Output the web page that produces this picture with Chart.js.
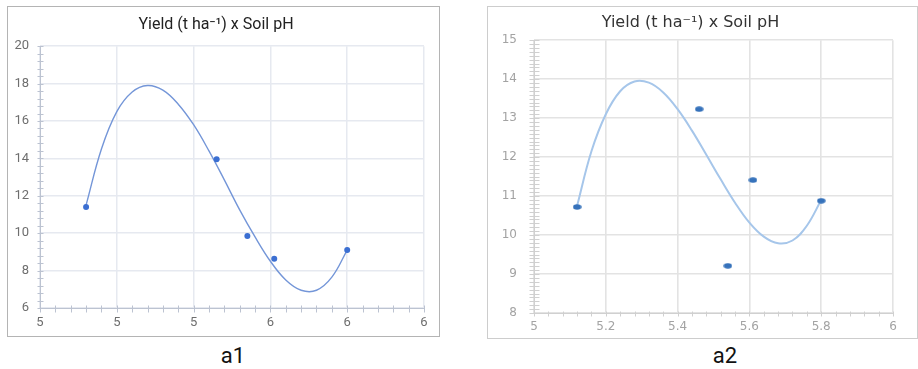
<!DOCTYPE html>
<html>
<head>
<meta charset="utf-8">
<script src="https://cdn.jsdelivr.net/npm/chart.js@4.4.1/dist/chart.umd.min.js"></script>
<style>
  html, body { margin: 0; padding: 0; background: #ffffff; }
  body { position: relative; width: 918px; height: 369px; overflow: hidden; }
  .panel { position: absolute; box-sizing: content-box; background: #fff; }
  .panel canvas { display: block; }
  .caption { position: absolute; top: 341px; width: 80px; text-align: center;
             font-family: Roboto, "Noto Sans", sans-serif; font-size: 22px; line-height: 30px; color: #111; }
</style>
</head>
<body>
<div class="panel" id="panelA1" style="left:7px; top:6px; width:431px; height:329px; border:1px solid #b4b4b4;">
  <canvas id="chartA1"></canvas>
</div>
<div class="panel" id="panelA2" style="left:487px; top:6px; width:429px; height:331px; border:1px solid #cdcdcd;">
  <canvas id="chartA2"></canvas>
</div>
<div class="caption" style="left:193px;">a1</div>
<div class="caption" style="left:685px;">a2</div>

<script>
// Observed soil pH and yield (t/ha) for the two sites
const phPoints = [5.12, 5.46, 5.54, 5.61, 5.80];
const yieldA1  = [11.4, 13.95, 9.85, 8.63, 9.1];
const yieldA2  = [10.72, 13.23, 9.21, 11.41, 10.88];

// Polynomial trend lines, sampled along the pH range
const trendPh = [5.12, 5.16, 5.20, 5.24, 5.28, 5.32, 5.36, 5.40, 5.44,
                 5.48, 5.52, 5.56, 5.60, 5.64, 5.68, 5.72, 5.76, 5.80];
const trendA1 = [11.5, 14.5, 16.5, 17.55, 17.9, 17.65, 16.9, 15.8, 14.4,
                 12.85, 11.25, 9.8, 8.5, 7.5, 6.95, 6.95, 7.65, 9.1];
const trendA2 = [10.75, 12.15, 13.1, 13.69, 13.94, 13.91, 13.66, 13.23, 12.68,
                 12.06, 11.43, 10.83, 10.32, 9.96, 9.79, 9.86, 10.24, 10.9];

const chartTitle = 'Yield (t ha\u207B\u00B9) x Soil pH';

function isMajor(v, step) {
  const r = v / step;
  return Math.abs(r - Math.round(r)) < 1e-6;
}

function pairs(xs, ys) {
  return xs.map((x, i) => ({ x: x, y: ys[i] }));
}

// Axis lines with short cross marks at every (minor) tick
const axisMarks = {
  id: 'axisMarks',
  beforeDatasetsDraw(chart, args, o) {
    const ctx = chart.ctx;
    const a = chart.chartArea;
    const xs = chart.scales.x, ys = chart.scales.y;
    ctx.save();
    ctx.strokeStyle = o.color;
    ctx.lineWidth = o.width;
    ctx.beginPath();
    const by = Math.round(a.bottom) + 0.5;
    const lx = Math.round(a.left) + 0.5;
    ctx.moveTo(a.left, by); ctx.lineTo(a.right, by);
    ctx.moveTo(lx, a.top); ctx.lineTo(lx, a.bottom);
    xs.ticks.forEach(t => {
      const px = Math.round(xs.getPixelForValue(t.value)) + 0.5;
      ctx.moveTo(px, by - o.xUp); ctx.lineTo(px, by + o.xDown);
    });
    ys.ticks.forEach(t => {
      const py = Math.round(ys.getPixelForValue(t.value)) + 0.5;
      ctx.moveTo(lx - o.yOut, py); ctx.lineTo(lx + o.yIn, py);
    });
    ctx.stroke();
    ctx.restore();
  }
};

function ellipseMarker(w, h, color) {
  const c = document.createElement('canvas');
  c.width = w; c.height = h;
  const g = c.getContext('2d');
  g.fillStyle = color;
  g.beginPath();
  g.ellipse(w / 2, h / 2, w / 2 - 0.3, h / 2 - 0.3, 0, 0, Math.PI * 2);
  g.fill();
  return c;
}

function makeChart(id, cfg) {
  const xStep = 0.04, xMajor = 0.2;
  return new Chart(document.getElementById(id), {
    type: 'scatter',
    data: {
      datasets: [
        {
          data: pairs(phPoints, cfg.points),
          pointStyle: cfg.pointStyle,
          pointRadius: cfg.pointRadius,
          pointHoverRadius: cfg.pointRadius,
          backgroundColor: cfg.pointColor,
          borderColor: cfg.pointColor,
          borderWidth: 0,
          showLine: false,
          order: 0
        },
        {
          data: pairs(trendPh, cfg.trend),
          showLine: true,
          pointRadius: 0,
          borderColor: cfg.lineColor,
          borderWidth: cfg.lineWidth,
          tension: 0.4,
          fill: false,
          order: 1
        }
      ]
    },
    options: {
      responsive: true,
      maintainAspectRatio: false,
      animation: false,
      events: [],
      layout: { padding: { left: 0, right: cfg.padRight, top: 0, bottom: 0 } },
      plugins: {
        legend: { display: false },
        tooltip: { enabled: false },
        title: {
          display: true,
          text: chartTitle,
          color: cfg.titleColor,
          font: cfg.titleFont,
          padding: cfg.titlePad
        },
        axisMarks: cfg.marks
      },
      scales: {
        x: {
          type: 'linear',
          min: 5, max: 6,
          afterFit: s => { s.height = cfg.xHeight; },
          border: { display: false },
          grid: {
            drawTicks: false,
            lineWidth: cfg.gridWidth,
            color: c => isMajor(c.tick.value, xMajor) ? cfg.gridColor : 'rgba(0,0,0,0)'
          },
          ticks: {
            stepSize: xStep,
            autoSkip: false,
            maxRotation: 0,
            padding: cfg.xPad,
            color: cfg.tickColor,
            font: cfg.tickFont,
            callback: v => isMajor(v, xMajor) ? cfg.xLabel(v) : ''
          }
        },
        y: {
          type: 'linear',
          min: cfg.yMin, max: cfg.yMax,
          afterFit: s => { s.width = cfg.yWidth; },
          border: { display: false },
          grid: {
            drawTicks: false,
            lineWidth: cfg.gridWidth,
            color: c => isMajor(c.tick.value - cfg.yMin, cfg.yMajor) ? cfg.gridColor : 'rgba(0,0,0,0)'
          },
          ticks: {
            stepSize: cfg.yStep,
            autoSkip: false,
            padding: cfg.yPad,
            color: cfg.tickColor,
            font: cfg.tickFont,
            callback: v => isMajor(v - cfg.yMin, cfg.yMajor) ? String(Math.round(v)) : ''
          }
        }
      }
    },
    plugins: [axisMarks]
  });
}

makeChart('chartA1', {
  points: yieldA1, trend: trendA1,
  pointStyle: 'circle', pointRadius: 3, pointColor: '#3b6fd2',
  lineColor: '#7496d8', lineWidth: 1.4,
  padRight: 15,
  titleColor: '#222222',
  titleFont: { family: 'Roboto', size: 16, weight: 'normal' },
  titlePad: { top: 8, bottom: 12 },
  xHeight: 28, xPad: 7, yWidth: 32, yPad: 11,
  yMin: 6, yMax: 20, yStep: 0.4, yMajor: 2,
  xLabel: v => v.toFixed(0),
  gridColor: '#e6e9f0', gridWidth: 1.5,
  tickColor: '#6e6e6e',
  tickFont: { family: 'Roboto', size: 13 },
  marks: { color: '#bcc3d1', width: 1, xUp: 3, xDown: 4, yOut: 3, yIn: 3 }
});

makeChart('chartA2', {
  points: yieldA2, trend: trendA2,
  pointStyle: ellipseMarker(9, 6, '#3672bb'), pointRadius: 4, pointColor: '#3672bb',
  lineColor: '#a6c6ea', lineWidth: 2,
  padRight: 24,
  titleColor: '#333333',
  titleFont: { family: 'DejaVu Sans', size: 16, weight: 'normal' },
  titlePad: { top: 6, bottom: 8 },
  xHeight: 25, xPad: 7, yWidth: 46, yPad: 17,
  yMin: 8, yMax: 15, yStep: 0.1, yMajor: 1,
  xLabel: v => String(Math.round(v * 10) / 10),
  gridColor: '#e3e3e3', gridWidth: 1.6,
  tickColor: '#a3a3a3',
  tickFont: { family: 'DejaVu Sans', size: 12 },
  marks: { color: '#d0d0d0', width: 1, xUp: 2, xDown: 3, yOut: 5, yIn: 5 }
});
</script>
</body>
</html>
